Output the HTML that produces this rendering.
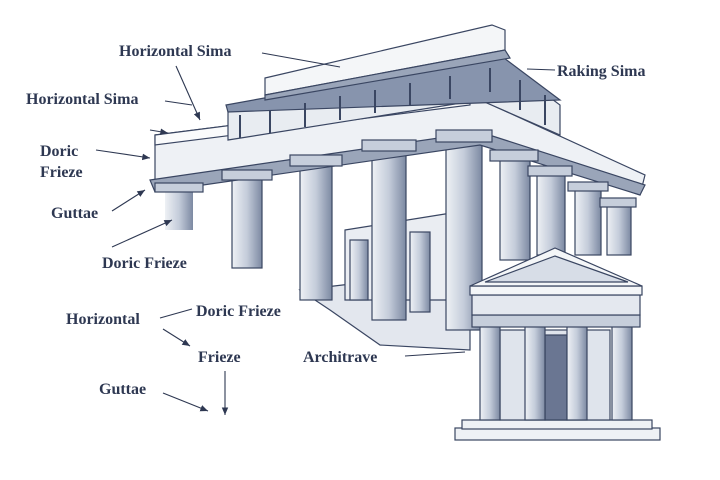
<!DOCTYPE html>
<html><head><meta charset="utf-8"><style>
html,body{margin:0;padding:0;background:#fff}
svg{display:block}
text{font-family:"Liberation Serif",serif;font-weight:bold;fill:#2e3852;font-size:16px}
</style></head><body>
<svg width="720" height="480" viewBox="0 0 720 480">
<defs>
<marker id="a" markerWidth="8" markerHeight="8" refX="7" refY="4" orient="auto"><path d="M0,1 L7,4 L0,7 z" fill="#2e3852"/></marker>
<linearGradient id="col" x1="0" x2="1"><stop offset="0" stop-color="#eef1f5"/><stop offset="0.5" stop-color="#c4ccda"/><stop offset="1" stop-color="#7c89a2"/></linearGradient>
</defs>
<g stroke="#3a4662" stroke-width="1.2" fill="#eef1f5">
<polygon points="300,290 470,270 470,350 380,345 330,310" fill="#e3e7ee"/>
<polygon points="345,230 470,210 470,300 345,300" fill="#eaedf2"/>
<g fill="url(#col)">
<rect x="165" y="190" width="28" height="40" stroke="none"/>
<rect x="232" y="178" width="30" height="90"/>
<rect x="300" y="165" width="32" height="135"/>
<rect x="372" y="150" width="34" height="170"/>
<rect x="446" y="140" width="36" height="190"/>
<rect x="500" y="160" width="30" height="100"/>
<rect x="537" y="175" width="28" height="80"/>
<rect x="575" y="190" width="26" height="65"/>
<rect x="607" y="205" width="24" height="50"/>
<rect x="350" y="240" width="18" height="60"/>
<rect x="410" y="232" width="20" height="80"/>
</g>
<polygon points="155,135 470,95 645,175 640,195 480,140 155,190"/>
<polygon points="155,135 470,95 470,105 155,145" fill="#fafbfc"/>
<polygon points="150,180 480,132 645,185 640,195 480,145 155,192" fill="#9aa5b9"/>
<polygon points="228,110 500,60 560,105 560,135 480,100 228,140" fill="#e8ecf1"/>
<polygon points="226,105 500,55 560,100 228,112" fill="#8794ad"/>
<polygon points="265,78 492,25 505,30 505,50 265,95" fill="#f4f6f8"/>
<polygon points="265,95 505,50 510,58 265,100" fill="#9aa5b9"/>
<g stroke-width="2">
<line x1="240" y1="115" x2="240" y2="138"/><line x1="270" y1="110" x2="270" y2="133"/>
<line x1="305" y1="103" x2="305" y2="127"/><line x1="340" y1="96" x2="340" y2="120"/>
<line x1="375" y1="90" x2="375" y2="113"/><line x1="410" y1="83" x2="410" y2="106"/>
<line x1="450" y1="76" x2="450" y2="99"/><line x1="490" y1="68" x2="490" y2="92"/>
<line x1="520" y1="80" x2="520" y2="110"/><line x1="545" y1="95" x2="545" y2="125"/>
</g>
<g fill="#c6cedb">
<rect x="155" y="183" width="48" height="9"/><rect x="222" y="170" width="50" height="10"/>
<rect x="290" y="155" width="52" height="11"/><rect x="362" y="140" width="54" height="11"/>
<rect x="436" y="130" width="56" height="12"/><rect x="490" y="150" width="48" height="11"/>
<rect x="528" y="166" width="44" height="10"/><rect x="568" y="182" width="40" height="9"/>
<rect x="600" y="198" width="36" height="9"/>
</g>
<rect x="455" y="428" width="205" height="12"/>
<rect x="462" y="420" width="190" height="9"/>
<rect x="500" y="330" width="110" height="90" fill="#dfe4ec"/>
<rect x="545" y="335" width="22" height="85" fill="#6a7692"/>
<g fill="url(#col)">
<rect x="480" y="325" width="20" height="95"/><rect x="525" y="325" width="20" height="95"/>
<rect x="567" y="325" width="20" height="95"/><rect x="612" y="325" width="20" height="95"/>
</g>
<rect x="472" y="315" width="168" height="12" fill="#c6cedb"/>
<rect x="472" y="295" width="168" height="20" fill="#e4e8ef"/>
<rect x="470" y="286" width="172" height="9" fill="#f4f6f8"/>
<polygon points="470,286 555,248 642,286" fill="#f4f6f8"/>
<polygon points="485,282 555,256 628,282" fill="#d7dde7"/>
</g>
<g stroke="#2e3852" stroke-width="1.1" fill="none">
<line x1="262" y1="53" x2="340" y2="67"/>
<line x1="176" y1="66" x2="200" y2="120" marker-end="url(#a)"/>
<line x1="165" y1="101" x2="192" y2="105"/>
<line x1="150" y1="130" x2="168" y2="133" marker-end="url(#a)"/>
<line x1="96" y1="150" x2="150" y2="158" marker-end="url(#a)"/>
<line x1="112" y1="211" x2="145" y2="190" marker-end="url(#a)"/>
<line x1="112" y1="247" x2="172" y2="220" marker-end="url(#a)"/>
<line x1="160" y1="318" x2="192" y2="309"/>
<line x1="163" y1="329" x2="190" y2="346" marker-end="url(#a)"/>
<line x1="225" y1="371" x2="225" y2="415" marker-end="url(#a)"/>
<line x1="163" y1="393" x2="208" y2="411" marker-end="url(#a)"/>
<line x1="527" y1="69" x2="555" y2="70"/>
<line x1="405" y1="356" x2="465" y2="352"/>
</g>
<text x="119" y="56">Horizontal Sima</text>
<text x="26" y="104">Horizontal Sima</text>
<text x="40" y="156">Doric</text>
<text x="40" y="177">Frieze</text>
<text x="51" y="218">Guttae</text>
<text x="102" y="268">Doric Frieze</text>
<text x="196" y="316">Doric Frieze</text>
<text x="66" y="324">Horizontal</text>
<text x="198" y="362">Frieze</text>
<text x="303" y="362">Architrave</text>
<text x="99" y="394">Guttae</text>
<text x="557" y="76">Raking Sima</text>
</svg>
</body></html>
